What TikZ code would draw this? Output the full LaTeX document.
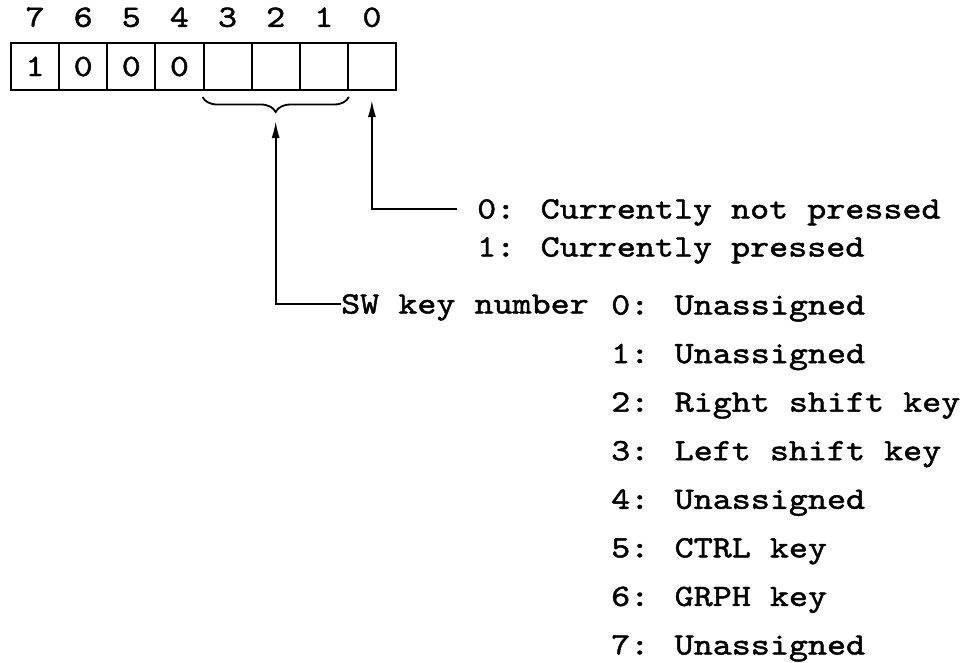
\documentclass[tikz,border=0pt]{standalone}
\usepackage{fontspec}
\newfontfamily\regfont{lmmono10-regular}[Extension=.otf,FakeStretch=1.17,FakeBold=1.5]
\usetikzlibrary{arrows.meta,positioning,decorations.pathreplacing}
\tikzset{
  reg/cell/.style={
    draw=black,
    line width=2pt,
    minimum width=48.125pt,
    minimum height=47pt,
    inner sep=0pt,
    text height=19pt,
    text depth=0pt,
    font=\fontsize{31}{31}\selectfont\regfont
  },
  reg/bit/.style={
    inner sep=0pt,
    text height=19pt,
    text depth=0pt,
    font=\fontsize{31}{31}\selectfont\regfont
  },
  reg/text/.style={
    anchor=west,
    inner sep=0pt,
    text height=19pt,
    text depth=0pt,
    font=\fontsize{31}{31}\selectfont\regfont
  },
  reg/arrow/.style={-{Latex[length=17pt,width=8pt]}, line width=1.8pt},
  reg/brace/.style={decorate, decoration={brace, mirror, amplitude=15pt, raise=6pt}, line width=1.8pt}
}
\begin{document}
\begin{tikzpicture}[x=1pt,y=-1pt]
  \useasboundingbox (0,0) rectangle (965,662);
  \foreach \b/\v [count=\i from 0] in {7/1,6/0,5/0,4/0,3/{},2/{},1/{},0/{}} {
    \node[reg/cell] (c\b) at (35.06+48.125*\i,66.5) {\v};
    \node[reg/bit,above=15pt of c\b] (n\b) {\b};
  }
  \draw[reg/brace] (c3.south west) -- (c1.south east);
  \node[reg/text] (cur0) at (477,209) {0: Currently not pressed};
  \node[reg/text] (cur1) at (477,247) {1: Currently pressed};
  \node[reg/text] (sw) at (341,304) {SW key number};
  \foreach \k/\t [count=\i from 0] in {0/Unassigned,1/Unassigned,2/Right shift key,3/Left shift key,4/Unassigned,5/CTRL key,6/GRPH key,7/Unassigned}
    \node[reg/text] (key\k) at (611,305+48.57*\i) {\k: \t};
  \draw[reg/arrow,shorten <=20pt,shorten >=9pt] (cur0.west) -| (c0.south);
  \draw[reg/arrow,shorten >=30pt] (sw.west) -| (c2.south);
\end{tikzpicture}
\end{document}
